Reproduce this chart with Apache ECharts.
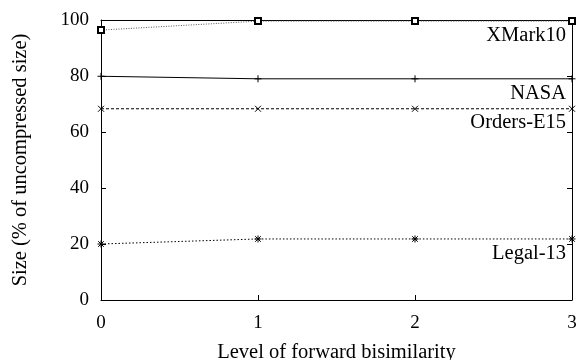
<!DOCTYPE html>
<html>
<head>
<meta charset="utf-8">
<script src="https://cdn.jsdelivr.net/npm/echarts@6/dist/echarts.min.js"></script>
<style>
  html, body { margin: 0; padding: 0; background: #fff; }
  #chart { width: 579px; height: 360px; }
</style>
</head>
<body>
<div id="chart"></div>
<script>
// Level of forward bisimilarity vs. compressed size (% of uncompressed)
const levels = [0, 1, 2, 3];
const xmark10 = [96.4, 99.6, 99.6, 99.6];
const nasa = [79.9, 79.0, 79.0, 79.0];
const ordersE15 = [68.3, 68.3, 68.3, 68.3];
const legal13 = [20.0, 21.8, 21.8, 21.8];

const FONT = '"Liberation Serif", "DejaVu Serif", serif';
const PLUS = 'path://M0,5L10,5M5,0L5,10';
const CROSS = 'path://M0,0L10,10M10,0L0,10';
const STAR = 'path://M0,5L10,5M5,0L5,10M1,1L9,9M9,1L1,9';

const chart = echarts.init(document.getElementById('chart'));

function line(name, values, dash, symbol, size, color) {
  return {
    name, type: 'line',
    data: levels.map((x, i) => [x, values[i]]),
    symbol, symbolSize: size,
    clip: false,
    lineStyle: { color, width: 1, type: dash },
    itemStyle: { color: '#000', borderColor: '#000', borderWidth: 1 },
    label: {
      show: true, position: 'bottom', align: 'right', offset: [-6, -5],
      color: '#000', fontFamily: FONT, fontSize: 20.5,
      formatter: p => p.dataIndex === levels.length - 1 ? name : '',
    },
    emphasis: { disabled: true },
    z: 3,
  };
}

const axisBase = {
  axisLine: { show: true, onZero: false, lineStyle: { color: '#000', width: 1 } },
  axisTick: { show: true, inside: true, length: 5, lineStyle: { color: '#000' } },
  splitLine: { show: false },
};

chart.setOption({
  animation: false,
  backgroundColor: '#fff',
  grid: { left: 101, right: 7, top: 20, bottom: 60, outerBoundsMode: 'none', containLabel: false },
  xAxis: [{
    type: 'value', min: 0, max: 3, interval: 1,
    name: 'Level of forward bisimilarity', nameLocation: 'middle', nameGap: 42,
    nameTextStyle: { color: '#000', fontFamily: FONT, fontSize: 20.5 },
    axisLabel: { color: '#000', fontFamily: FONT, fontSize: 19, margin: 14 },
    ...axisBase,
  }, {
    type: 'value', min: 0, max: 3, interval: 1, position: 'top',
    axisLabel: { show: false }, ...axisBase,
  }],
  yAxis: [{
    type: 'value', min: 0, max: 100, interval: 20,
    name: 'Size (% of uncompressed size)', nameLocation: 'middle', nameGap: 70,
    nameTextStyle: { color: '#000', fontFamily: FONT, fontSize: 20.5 },
    axisLabel: { color: '#000', fontFamily: FONT, fontSize: 19, margin: 12 },
    ...axisBase,
  }, {
    type: 'value', min: 0, max: 100, interval: 20, position: 'right',
    axisLabel: { show: false }, ...axisBase,
  }],
  series: [
    line('XMark10', xmark10, [1, 1.5], 'emptyRect', 6, '#555'),
    line('NASA', nasa, 'solid', PLUS, 7, '#000'),
    line('Orders-E15', ordersE15, [3, 2], CROSS, 6, '#000'),
    line('Legal-13', legal13, [1.5, 2], STAR, 7, '#000'),
  ],
});
</script>
</body>
</html>
